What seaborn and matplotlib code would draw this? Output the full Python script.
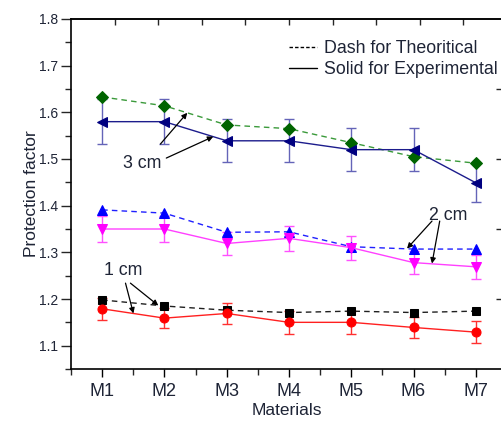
import numpy as np
import pandas as pd
import matplotlib
matplotlib.use("Agg")
import matplotlib.pyplot as plt
import seaborn as sns
from matplotlib.lines import Line2D
from matplotlib.ticker import MultipleLocator, NullFormatter

# ------------------------------------------------------------------
# DATA.

materials = ["M1", "M2", "M3", "M4", "M5", "M6", "M7"]

theo_3cm = [1.633, 1.614, 1.573, 1.565, 1.535, 1.505, 1.491]
exp_3cm = [1.580, 1.580, 1.539, 1.539, 1.520, 1.520, 1.449]
err_3cm = [0.048, 0.048, 0.046, 0.046, 0.046, 0.046, 0.042]

theo_2cm = [1.391, 1.384, 1.343, 1.344, 1.312, 1.307, 1.307]
exp_2cm = [1.350, 1.350, 1.319, 1.330, 1.310, 1.278, 1.269]
err_2cm = [0.027, 0.027, 0.025, 0.027, 0.026, 0.024, 0.026]

theo_1cm = [1.198, 1.185, 1.176, 1.171, 1.174, 1.171, 1.174]
exp_1cm = [1.179, 1.159, 1.169, 1.150, 1.150, 1.139, 1.129]
err_1cm = [0.023, 0.022, 0.023, 0.024, 0.024, 0.022, 0.023]

legend_labels = ["Dash for Theoritical", "Solid for Experimental"]

# ------------------------------------------------------------------
# STYLE.

sns.set_style("ticks")
plt.rcParams["font.family"] = ["Liberation Sans", "DejaVu Sans"]

fig = plt.figure(figsize=(5.02, 4.21), dpi=100)
ax = fig.add_axes([71 / 502, 52 / 421, 431 / 502, 350 / 421])

# (values, marker, marker size, marker colour, line colour, dashed, errors, error colour)
series = [
    (theo_3cm, "D", 6.5, "#006400", "#3a9a3a", True, None, None),
    (exp_3cm, "<", 7.0, "#000080", "#1c1c8c", False, err_3cm, "#6464b8"),
    (theo_2cm, "^", 7.0, "#0000ff", "#2020ff", True, None, None),
    (exp_2cm, "v", 7.0, "#ff00ff", "#ff40ff", False, err_2cm, "#ff50ff"),
    (theo_1cm, "s", 5.5, "#000000", "#202020", True, None, None),
    (exp_1cm, "o", 6.5, "#ff0000", "#ff2020", False, err_1cm, "#ff3030"),
]

for vals, mk, ms, mcol, lcol, dashed, errs, ecol in series:
    df = pd.DataFrame({"Material": materials, "PF": vals})
    if errs is not None:
        ax.errorbar(materials, vals, yerr=errs, fmt="none", ecolor=ecol,
                    elinewidth=1.0, capsize=3.5, capthick=1.0, zorder=2)
    sns.lineplot(data=df, x="Material", y="PF", ax=ax, color=lcol,
                 linewidth=1.0, linestyle=(0, (4, 3)) if dashed else "-",
                 marker=mk, markersize=ms,
                 markerfacecolor=mcol, markeredgecolor=mcol, zorder=3)

# ------------------------------------------------------------------
# AXES.

txt = "#1e2436"
ax.set_xlim(-0.5, 6.42)
ax.set_ylim(1.05, 1.8)
ax.yaxis.set_minor_locator(MultipleLocator(0.05))
ax.xaxis.set_minor_locator(MultipleLocator(0.5))
ax.set_yticks([1.1, 1.2, 1.3, 1.4, 1.5, 1.6, 1.7, 1.8])
ax.set_yticklabels(["1.1", "1.2", "1.3", "1.4", "1.5", "1.6", "1.7", "1.8"])

ax.tick_params(axis="x", which="major", direction="out", length=6, width=1,
               labelsize=13, pad=4, colors="black", labelcolor=txt)
ax.tick_params(axis="x", which="minor", direction="out", length=4, width=1)
ax.tick_params(axis="y", which="major", direction="out", length=7, width=1,
               labelsize=10, pad=2, labelcolor=txt)
ax.tick_params(axis="y", which="minor", direction="out", length=4, width=1)

for side in ["left", "bottom", "top"]:
    ax.spines[side].set_visible(True)
    ax.spines[side].set_linewidth(1.2)
    ax.spines[side].set_color("black")
ax.spines["right"].set_visible(False)

# mirrored top / right axes with their own tick spacing
top = ax.secondary_xaxis("top")
top.set_xticks(np.arange(0.2, 6.4, 0.7))
top.xaxis.set_major_formatter(NullFormatter())
top.tick_params(direction="in", length=4, width=1)
top.spines["top"].set_linewidth(1.2)

right = ax.secondary_yaxis("right")
right.set_yticks([1.2, 1.35, 1.5, 1.65])
right.yaxis.set_major_formatter(NullFormatter())
right.tick_params(direction="in", length=4, width=1)
right.spines["right"].set_visible(False)

ax.set_xlabel("Materials", fontsize=12.5, color=txt, labelpad=2)
ax.set_ylabel("Protection factor", fontsize=12.5, color=txt, labelpad=0.5)

# ------------------------------------------------------------------
# ANNOTATIONS.

arrow = dict(arrowstyle="-|>", color="black", lw=0.9,
             mutation_scale=8, shrinkA=0, shrinkB=0)

ax.text(0.646, 1.491, "3 cm", fontsize=12.8, ha="center", va="center", color=txt)
ax.annotate("", xy=(1.367, 1.599), xytext=(0.935, 1.532), arrowprops=arrow)
ax.annotate("", xy=(1.784, 1.548), xytext=(1.03, 1.502), arrowprops=arrow)

ax.text(5.553, 1.38, "2 cm", fontsize=12.8, ha="center", va="center", color=txt)
ax.annotate("", xy=(4.895, 1.308), xytext=(5.296, 1.367), arrowprops=arrow)
ax.annotate("", xy=(5.296, 1.276), xytext=(5.42, 1.367), arrowprops=arrow)

ax.text(0.341, 1.26, "1 cm", fontsize=12.8, ha="center", va="center", color=txt)
ax.annotate("", xy=(0.502, 1.169), xytext=(0.375, 1.234), arrowprops=arrow)
ax.annotate("", xy=(0.902, 1.186), xytext=(0.454, 1.234), arrowprops=arrow)

# ------------------------------------------------------------------
# LEGEND.

handles = [Line2D([], [], color="black", lw=1.0, linestyle=(0, (2.5, 1.5))),
           Line2D([], [], color="black", lw=1.0, linestyle="-")]
leg = ax.legend(handles, legend_labels, loc="upper left",
                bbox_to_anchor=(0.505, 0.94), frameon=False, fontsize=12.8,
                handlelength=1.6, handletextpad=0.4, labelspacing=0.25,
                borderpad=0, borderaxespad=0)
for t in leg.get_texts():
    t.set_color(txt)

fig.savefig("out.png", dpi=100)
